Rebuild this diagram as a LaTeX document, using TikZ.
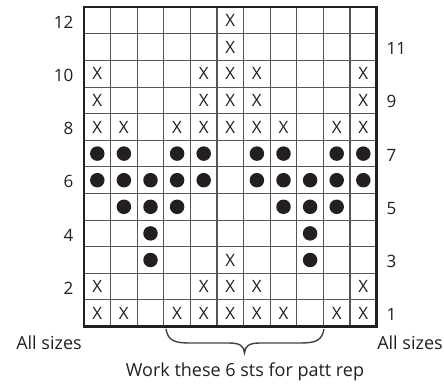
\documentclass[tikz,border=0pt]{standalone}
\usepackage{fontspec}
\setmainfont{Open Sans}
\definecolor{ink}{HTML}{231F20}
\definecolor{gridgray}{HTML}{555555}
\begin{document}
\begin{tikzpicture}[x=1pt,y=-1pt,
  inner/.style={draw=gridgray,line width=1.1pt},
  outer/.style={draw=ink,line width=2.4pt},
  xmark/.style={inner sep=0pt,text=ink,font=\fontsize{17}{17}\selectfont},
  dotmark/.style={circle,fill=ink,inner sep=0pt,minimum size=14.5pt},
  rowlab/.style={inner sep=0pt,text=ink,font=\fontsize{17}{17}\selectfont},
  caption/.style={inner sep=0pt,text=ink,font=\fontsize{18}{18}\selectfont},
  bracepath/.style={draw=ink!85,line width=1.4pt}]
\useasboundingbox (0,0) rectangle (444,385);
\def\L{84}\def\T{7.3}\def\S{26.6}
% grid
\foreach \i in {1,...,10}
  \draw[inner] ({\L+\S*\i},\T) -- ({\L+\S*\i},{\T+12*\S});
\foreach \j in {1,...,11}
  \draw[inner] (\L,{\T+\S*\j}) -- ({\L+11*\S},{\T+\S*\j});
\draw[outer] (\L,\T) rectangle ({\L+11*\S},{\T+12*\S});
% X marks
\foreach \r/\cols in {12/{6},11/{6},10/{1,5,6,7,11},9/{1,5,6,7,11},
    8/{1,2,4,5,6,7,8,10,11},3/{6},2/{1,5,6,7,11},1/{1,2,4,5,6,7,8,10,11}}
  \foreach \c in \cols
    \node[xmark] (x-\c-\r) at ({\L+\S*(\c-0.5)},{\T+\S*(12.5-\r)}) {X};
% dots
\foreach \r/\cols in {7/{1,2,4,5,7,8,10,11},6/{1,2,3,4,5,7,8,9,10,11},
    5/{2,3,4,8,9,10},4/{3,9},3/{3,9}}
  \foreach \c in \cols
    \node[dotmark] (d-\c-\r) at ({\L+\S*(\c-0.5)},{\T+\S*(12.5-\r)}) {};
% row labels
\foreach \r in {12,10,8,6,4,2}
  \node[rowlab,anchor=east] (lab-\r) at (73.5,{\T+\S*(12.5-\r)+1.5}) {\r};
\foreach \r in {11,9,7,5,3,1}
  \node[rowlab,anchor=west] (lab-\r) at (386.5,{\T+\S*(12.5-\r)+1.5}) {\r};
% captions
\node[caption] (allL) at (49,343) {All sizes};
\node[caption] (allR) at (410,343) {All sizes};
\node[caption] (rep) at (245,372) {Work these 6 sts for patt rep};
% brace
\coordinate (bl) at (166,329);
\coordinate (br) at (324,329);
\coordinate (tip) at (244.5,353);
\draw[bracepath] (bl) .. controls (168,341) and (175,343) .. (190,343)
  -- (229,343) .. controls (240,343) and (244,346) .. (tip)
  .. controls (245,346) and (249,343) .. (260,343)
  -- (300,343) .. controls (315,343) and (322,341) .. (br);
\end{tikzpicture}
\end{document}
